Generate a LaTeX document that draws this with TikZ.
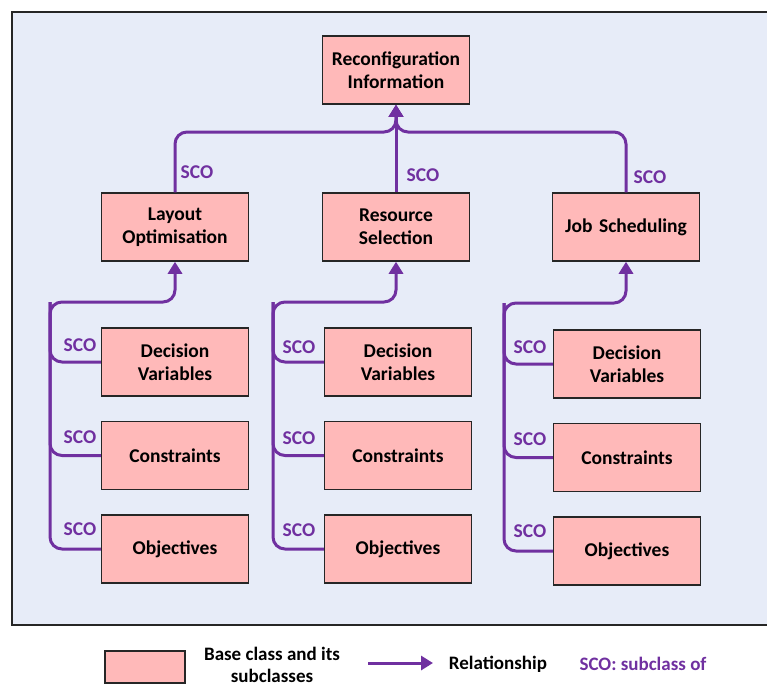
\documentclass[tikz,border=0pt]{standalone}
\usepackage{fontspec}
\setmainfont{Carlito}
\usetikzlibrary{arrows.meta}
\usetikzlibrary{positioning}
\definecolor{scopurple}{RGB}{112,48,160}
\definecolor{boxpink}{RGB}{255,185,185}
\definecolor{panelblue}{RGB}{231,236,248}
\tikzstyle{class} = [rectangle, draw=black!85, line width=1.5pt, fill=boxpink, minimum width=145pt, minimum height=68pt, text width=140pt, align=center, font=\bfseries\fontsize{19.5}{23}\selectfont]
\tikzstyle{link} = [draw=scopurple, line width=3pt, rounded corners=12pt]
\tikzstyle{tip} = [-{Triangle[width=14pt,length=12pt]}]
\tikzstyle{scolabel} = [text=scopurple, font=\bfseries\fontsize{19.5}{23}\selectfont]
\tikzstyle{legendtext} = [align=center, font=\bfseries\fontsize{19}{22}\selectfont]

\begin{document}
\begin{tikzpicture}[x=1pt, y=-1pt, node distance=24pt]

\useasboundingbox (0,0) rectangle (767,686);
\draw[black!85, line width=1.5pt, fill=panelblue] (12,12) rectangle (775,625);

% top level
\node (rc) [class] at (396,70) {Reconfiguration\\Information};
\node (lo) [class] at (175,227) {Layout\\Optimisation};
\node (rs) [class] at (396,227) {Resource\\Selection};
\node (js) [class] at (626,227) {Job Scheduling};

% subclasses
\node (dv1) [class] at (175,362) {Decision\\Variables};
\node (co1) [class, below=of dv1] {Constraints};
\node (ob1) [class, below=of co1] {Objectives};

\node (dv2) [class] at (398,362) {Decision\\Variables};
\node (co2) [class, below=of dv2] {Constraints};
\node (ob2) [class, below=of co2] {Objectives};

\node (dv3) [class] at (627,364) {Decision\\Variables};
\node (co3) [class, below=of dv3] {Constraints};
\node (ob3) [class, below=of co3] {Objectives};

% junctions
\coordinate (top) at (396,132);
\coordinate (j1) at (50,302);
\coordinate (j2) at (273,302);
\coordinate (j3) at (504,303);

\draw[link, tip] (lo.north) |- (top) -- (rc.south);
\draw[link, tip] (js.north) |- (top) -- (rc.south);
\draw[link, tip] (rs.north) -- (rc.south);

\draw[link] (dv1.west) -| (j1);
\draw[link] (co1.west) -| (j1);
\draw[link, tip] (ob1.west) -| (j1) -| (lo.south);

\draw[link] (dv2.west) -| (j2);
\draw[link] (co2.west) -| (j2);
\draw[link, tip] (ob2.west) -| (j2) -| (rs.south);

\draw[link] (dv3.west) -| (j3);
\draw[link] (co3.west) -| (j3);
\draw[link, tip] (ob3.west) -| (j3) -| (js.south);

% SCO labels
\node (s1) [scolabel] at (197,172) {SCO};
\node (s2) [scolabel] at (423,175) {SCO};
\node (s3) [scolabel] at (650,177) {SCO};
\node (s1a) [scolabel] at (80,345) {SCO};
\node (s1b) [scolabel] at (80,437) {SCO};
\node (s1c) [scolabel] at (80,529) {SCO};
\node (s2a) [scolabel] at (299,347) {SCO};
\node (s2b) [scolabel] at (299,438) {SCO};
\node (s2c) [scolabel] at (299,530) {SCO};
\node (s3a) [scolabel] at (530,347) {SCO};
\node (s3b) [scolabel] at (530,439) {SCO};
\node (s3c) [scolabel] at (530,531) {SCO};

% legend
\node (lbox) [rectangle, draw=black!85, line width=1.5pt, fill=boxpink, minimum width=80pt, minimum height=32pt] at (145,667) {};
\node (ltext) [legendtext] at (272,665) {Base class and its\\subclasses};
\coordinate (la) at (368,663);
\coordinate (lb) at (433,663);
\draw[link, tip] (la) -- (lb);
\node (lrel) [legendtext] at (498,664) {Relationship};
\node (lsco) [legendtext, text=scopurple] at (643,664) {SCO: subclass of};

\end{tikzpicture}
\end{document}
